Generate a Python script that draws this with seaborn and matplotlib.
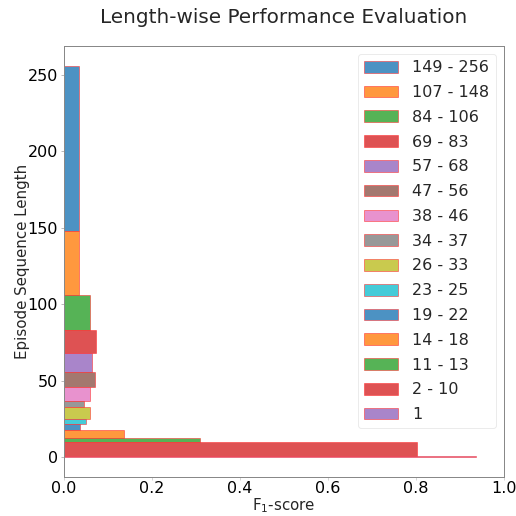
import matplotlib
matplotlib.use("Agg")
import matplotlib.pyplot as plt
from matplotlib.colors import to_rgba
import seaborn as sns

# Data
range_labels = ["149 - 256", "107 - 148", "84 - 106", "69 - 83", "57 - 68",
                "47 - 56", "38 - 46", "34 - 37", "26 - 33", "23 - 25",
                "19 - 22", "14 - 18", "11 - 13", "2 - 10", "1"]
range_low = [149, 107, 84, 69, 57, 47, 38, 34, 26, 23, 19, 14, 11, 2, 1]
range_high = [256, 148, 106, 83, 68, 56, 46, 37, 33, 25, 22, 18, 13, 10, 1]
f1_scores = [0.035, 0.033, 0.060, 0.073, 0.064, 0.071, 0.058, 0.046,
             0.058, 0.051, 0.036, 0.137, 0.308, 0.802, 0.936]

sns.set_theme(style="white")
plt.rcParams['font.family'] = ['DejaVu Sans']

palette = sns.color_palette("tab10", 10)

fig = plt.figure(figsize=(516 / 72, 516 / 72), dpi=72)
ax = fig.add_axes([64 / 516, 1 - 477 / 516, 440 / 516, 431 / 516])

for i, (lab, lo, hi, f1) in enumerate(zip(range_labels, range_low, range_high, f1_scores)):
    ax.barh(lo - 1, f1, height=hi - lo + 1, align="edge",
            color=to_rgba(palette[i % 10], 0.8),
            edgecolor=(1.0, 0.2, 0.2, 0.55), linewidth=1.0, label=lab)

ax.set_xlim(0, 1.0)
ax.margins(y=0.05)
ax.set_xticks([0.0, 0.2, 0.4, 0.6, 0.8, 1.0])
ax.set_yticks([0, 50, 100, 150, 200, 250])
ax.tick_params(axis="both", labelsize=16, colors="black")
ax.tick_params(axis="y", left=True, length=3, width=0.8, color="#aaaaaa", pad=3)
ax.tick_params(axis="x", bottom=True, length=3, width=0.8, color="#cccccc", pad=1)
for sp in ax.spines.values():
    sp.set_color("#888888")
    sp.set_linewidth(1.0)

ax.set_xlabel("F$_1$-score", fontsize=15, labelpad=0)
ax.set_ylabel("Episode Sequence Length", fontsize=15, labelpad=-3)
ax.set_title("Length-wise Performance Evaluation", fontsize=20, pad=23)

leg = ax.legend(loc="upper right", fontsize=16, handlelength=2.1,
                handleheight=0.75, labelspacing=0.61, borderpad=0.4,
                handletextpad=0.9, frameon=True, bbox_to_anchor=(1.0, 1.0))
leg.get_frame().set_edgecolor("#e6e6e6")

fig.savefig("out.png", dpi=72)
